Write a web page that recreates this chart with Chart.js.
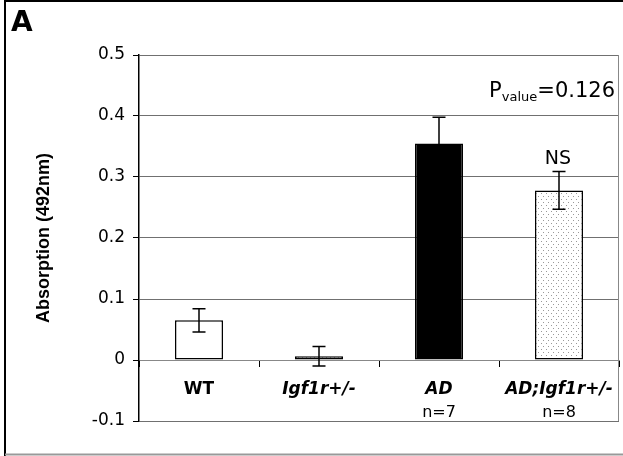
<!DOCTYPE html>
<html>
<head>
<meta charset="utf-8">
<script src="https://cdn.jsdelivr.net/npm/chart.js@4/dist/chart.umd.min.js"></script>
<style>
  body { margin: 0; background: #fff; }
  canvas { display: block; }
</style>
</head>
<body>
<canvas id="grafico" width="623" height="456"></canvas>
<script>
// datos del grafico
const grupos = ['WT', 'Igf1r+/-', 'AD', 'AD;Igf1r+/-']
const muestras = ['', '', 'n=7', 'n=8']
const absorcion = [0.065, 0.006, 0.355, 0.278]
const errores = [0.019, 0.016, 0.043, 0.031]
const yTicks = [-0.1, 0, 0.1, 0.2, 0.3, 0.4, 0.5]
const pValor = '0.126'
const marcaNS = 'NS'
const panel = 'A'

const SANS = "'DejaVu Sans', sans-serif"
const ARIAL = "'Liberation Sans', Arial, sans-serif"

// patrones de relleno
function patronPuntos() {
    const c = document.createElement('canvas')
    c.width = 5; c.height = 6
    const g = c.getContext('2d')
    g.fillStyle = '#fff'
    g.fillRect(0, 0, 5, 6)
    g.fillStyle = '#999'
    g.fillRect(1, 1, 1, 1)
    g.fillRect(3, 4, 1, 1)
    return g.createPattern(c, 'repeat')
}

function patronRayas() {
    const c = document.createElement('canvas')
    c.width = 4; c.height = 4
    const g = c.getContext('2d')
    g.fillStyle = '#fff'
    g.fillRect(0, 0, 4, 4)
    g.fillStyle = '#777'
    for (let i = 0; i < 4; i++) g.fillRect(i, 3 - i, 1, 1)
    return g.createPattern(c, 'repeat')
}

const rellenos = ['#fff', patronRayas(), '#000', patronPuntos()]

// marco, barras de error y textos extra
const extras = {
    id: 'extras',
    beforeDraw(chart) {
        const ctx = chart.ctx
        ctx.save()
        ctx.lineWidth = 2
        ctx.strokeStyle = '#000'
        ctx.beginPath()
        ctx.moveTo(5, 456); ctx.lineTo(5, 1); ctx.lineTo(623, 1)
        ctx.stroke()
        ctx.strokeStyle = '#999'
        ctx.beginPath()
        ctx.moveTo(5, 454.5); ctx.lineTo(623, 454.5)
        ctx.stroke()
        ctx.restore()
    },
    afterDatasetsDraw(chart) {
        const ctx = chart.ctx
        const y = chart.scales.y
        const x = chart.scales.x
        const area = chart.chartArea
        const meta = chart.getDatasetMeta(0)
        ctx.save()
        // borde derecho del area
        ctx.strokeStyle = '#888'
        ctx.lineWidth = 1
        ctx.beginPath()
        ctx.moveTo(area.right - 0.5, area.top)
        ctx.lineTo(area.right - 0.5, area.bottom)
        ctx.stroke()

        ctx.strokeStyle = '#000'
        ctx.lineWidth = 1.5
        meta.data.forEach((bar, i) => {
            const top = y.getPixelForValue(absorcion[i] + errores[i])
            const bot = y.getPixelForValue(absorcion[i] - errores[i])
            ctx.beginPath()
            ctx.moveTo(bar.x, top); ctx.lineTo(bar.x, bot)
            ctx.moveTo(bar.x - 6.5, top); ctx.lineTo(bar.x + 6.5, top)
            ctx.moveTo(bar.x - 6.5, bot); ctx.lineTo(bar.x + 6.5, bot)
            ctx.stroke()
        })

        ctx.fillStyle = '#000'
        ctx.textBaseline = 'alphabetic'
        ctx.textAlign = 'center'
        ctx.font = '16px ' + SANS
        muestras.forEach((m, i) => {
            if (m) ctx.fillText(m, x.getPixelForValue(i), y.getPixelForValue(0) + 57)
        })

        // NS sobre la ultima barra
        ctx.font = '19px ' + SANS
        const ultimo = absorcion.length - 1
        ctx.fillText(marcaNS, x.getPixelForValue(ultimo) - 1,
            y.getPixelForValue(absorcion[ultimo] + errores[ultimo]) - 8)

        // P value
        ctx.textAlign = 'left'
        const resto = '=' + pValor
        ctx.font = '21px ' + SANS
        const wP = ctx.measureText('P').width
        const wR = ctx.measureText(resto).width
        ctx.font = '13px ' + SANS
        const wS = ctx.measureText('value').width
        let px = area.right - 4 - wP - wS - wR
        const base = area.top + 42
        ctx.font = '21px ' + SANS
        ctx.fillText('P', px, base)
        px += wP
        ctx.font = '13px ' + SANS
        ctx.fillText('value', px, base + 4)
        px += wS
        ctx.font = '21px ' + SANS
        ctx.fillText(resto, px, base)

        // letra del panel
        ctx.font = 'bold 28px ' + SANS
        ctx.fillText(panel, 11, 31)
        ctx.restore()
    }
}

const ctx = document.getElementById('grafico').getContext('2d')

const data = {
    labels: grupos,
    datasets: [{
        data: absorcion,
        backgroundColor: rellenos,
        borderColor: '#000',
        borderWidth: 1.5,
        borderSkipped: false,
        barPercentage: 0.4,
        categoryPercentage: 1
    }]
}

const options = {
    responsive: false,
    animation: false,
    layout: { padding: { left: 5, top: 55, right: 4, bottom: 35 } },
    plugins: {
        legend: { display: false },
        tooltip: { enabled: false }
    },
    scales: {
        x: {
            position: { y: 0 },
            afterFit: s => {
                s.height = 0
                s.paddingLeft = 0
                s.paddingRight = 0
            },
            border: { color: '#888', width: 1 },
            grid: {
                offset: true,
                drawOnChartArea: false,
                tickLength: 6,
                tickColor: '#000',
                tickWidth: 1
            },
            ticks: {
                color: '#000',
                padding: 13,
                maxRotation: 0,
                autoSkip: false,
                font: c => ({
                    family: SANS,
                    size: 17,
                    weight: 'bold',
                    style: c.index === 0 ? 'normal' : 'italic'
                })
            }
        },
        y: {
            min: yTicks[0],
            max: yTicks[yTicks.length - 1],
            afterFit: s => { s.width = 134 },
            afterBuildTicks: s => { s.ticks = yTicks.map(v => ({ value: v })) },
            border: { color: '#000', width: 1.5 },
            grid: {
                color: '#707070',
                lineWidth: 1,
                tickLength: 6,
                tickColor: '#000'
            },
            ticks: {
                color: '#000',
                padding: 8,
                font: { family: SANS, size: 17 },
                callback: v => String(Math.round(v * 10) / 10)
            },
            title: {
                display: true,
                text: 'Absorption (492nm)',
                color: '#000',
                font: { family: ARIAL, size: 18, weight: 'bold' },
                padding: { top: 28, bottom: 0 }
            }
        }
    }
}

new Chart(ctx, { type: 'bar', data, options, plugins: [extras] })
</script>
</body>
</html>
